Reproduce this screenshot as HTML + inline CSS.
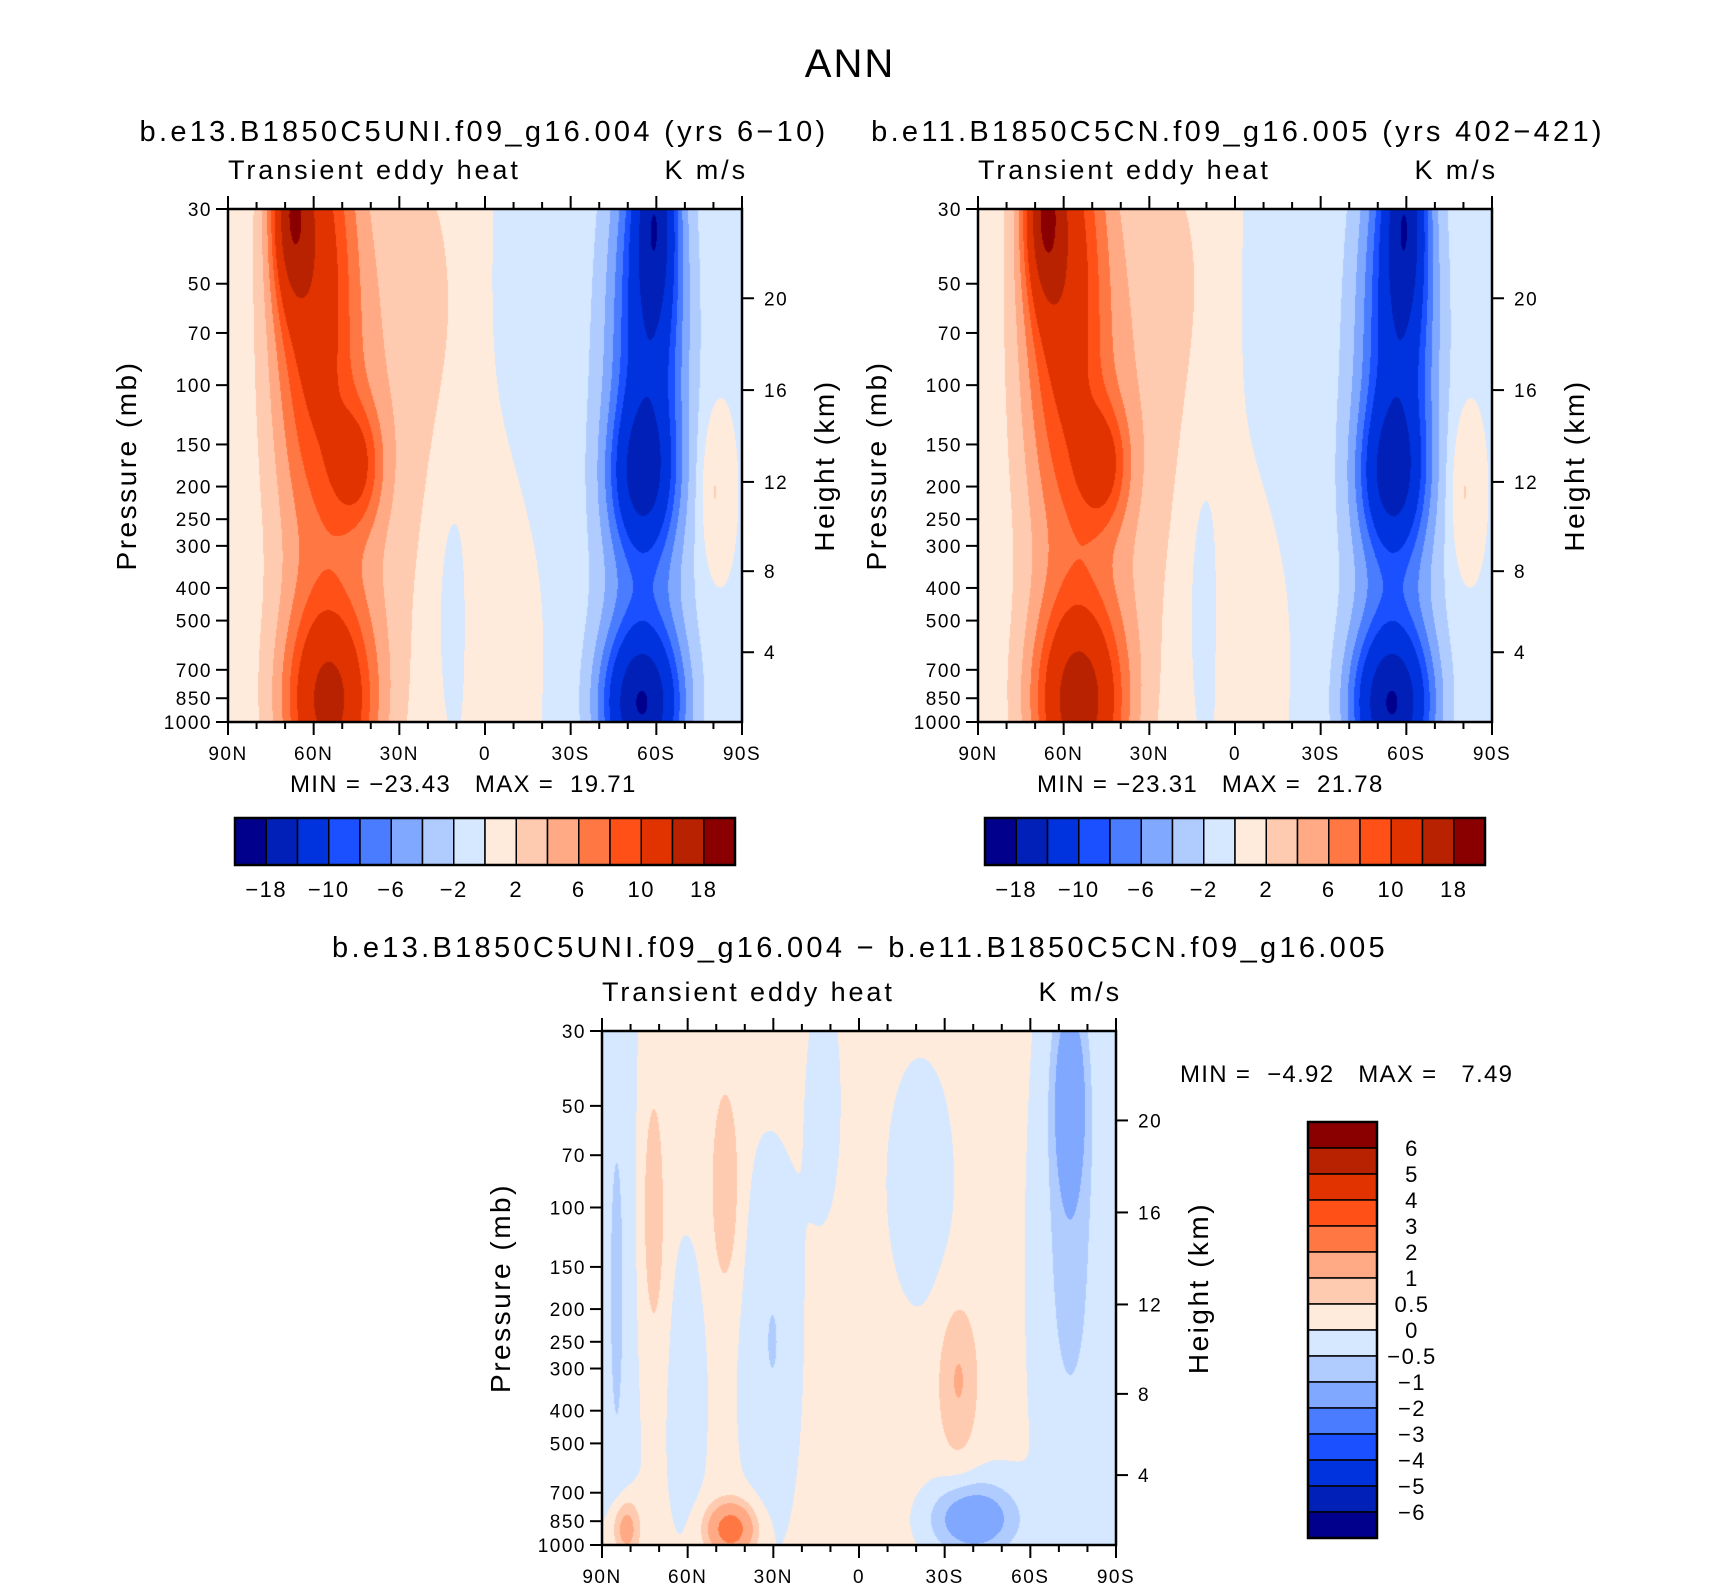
<!DOCTYPE html>
<html><head><meta charset="utf-8"><style>
html,body{margin:0;padding:0;background:#fff;}
#wrap{position:relative;width:1710px;height:1587px;overflow:hidden;font-family:"Liberation Sans",sans-serif;}
canvas{position:absolute;}
svg{position:absolute;left:0;top:0;}
text{white-space:pre;}
</style></head><body>
<div id="wrap">
<canvas id="c1"></canvas>
<canvas id="c2"></canvas>
<canvas id="c3"></canvas>
<svg id="s" width="1710" height="1587"></svg>
</div>
<script>
// ---- data ----
const colors = ["#00008c","#0020b8","#0033dd","#1a50ff","#4a7cff","#80a8ff","#b0ccff","#d6e8ff","#ffebdb","#ffcbb0","#ffaa84","#ff7844","#ff5018","#e03300","#b82200","#8a0000"];
const levelsAbs = [-18,-14,-10,-8,-6,-4,-2,0,2,4,6,8,10,14,18];
const levelsDiff = [-6,-5,-4,-3,-2,-1,-0.5,0,0.5,1,2,3,4,5,6];
const pTicks = [30,50,70,100,150,200,250,300,400,500,700,850,1000];
const latTicks = [90,60,30,0,-30,-60,-90];
const latLabels = ["90N","60N","30N","0","30S","60S","90S"];
const hTicks = [20,16,12,8,4];
const hFrac = [0.174,0.353,0.532,0.706,0.864];
// blobs: [lat, u (0 top..1 bottom), amplitude, lat width, u width]
const blobs1 = [
 [68,0.0,10,7,0.18],[60,0.1,10,15,0.5],[45,0.5,6,9,0.12],[55,0.97,12,16,0.2],
 [50,0.6,4,25,0.7],[20,0.2,2,20,0.5],[-5,0.75,1.6,10,0.3],[12,0.7,-1.4,8,0.3],
 [-60,0.0,-8,7,0.2],[-58,0.15,-8,12,0.4],[-55,0.52,-8,11,0.14],[-55,0.97,-14,14,0.15],
 [-55,0.55,-6,17,0.7],[-15,0.2,-1.8,12,0.35],[-80,0.55,2.8,5,0.15]];
const blobs2 = [
 [67,0.0,10,7,0.18],[60,0.1,10,15,0.5],[46,0.5,6,9,0.12],[55,0.97,13,16,0.2],
 [50,0.6,4,25,0.7],[20,0.2,2,20,0.5],[-5,0.78,1.5,9,0.25],[12,0.65,-1.4,8,0.35],
 [-60,0.0,-8,7,0.2],[-58,0.15,-8,12,0.4],[-55,0.52,-8,11,0.14],[-55,0.97,-14,14,0.15],
 [-55,0.55,-6,17,0.7],[-15,0.2,-1.8,12,0.35],[-80,0.55,2.8,5,0.15]];
const blobsDiff = [
 [0,0.4,0.3,45,1.2],[85,0.5,-0.6,5,0.6],[72,0.35,0.9,4,0.25],[47,0.3,0.9,5,0.2],
 [30,0.6,-0.7,10,0.35],[12,0.15,-0.45,8,0.3],[-35,0.68,0.9,7,0.15],
 [-74,0.12,-1.6,6,0.2],[-74,0.45,-0.7,10,0.4],[45,0.97,2.6,8,0.05],
 [-40,0.95,-1.8,15,0.07],[-20,0.3,-0.6,12,0.25],[60,0.7,-0.5,5,0.2],[82,0.97,1.5,5,0.06]];
// ---- geometry ----
const panels = [
 {cv:"c1",x:228,y:209,w:514,h:513,blobs:blobs1,levels:levelsAbs,name:"panel-1"},
 {cv:"c2",x:978,y:209,w:514,h:513,blobs:blobs2,levels:levelsAbs,name:"panel-2"},
 {cv:"c3",x:602,y:1031,w:514,h:514,blobs:blobsDiff,levels:levelsDiff,name:"panel-diff"}];
function hexRGB(h){return [parseInt(h.substr(1,2),16),parseInt(h.substr(3,2),16),parseInt(h.substr(5,2),16)];}
const rgb = colors.map(hexRGB);
function uOfP(p){return Math.log(p/30)/Math.log(1000/30);}
function field(bl,lat,u){let v=0;for(const b of bl){const a=(lat-b[0])/b[3],c=(u-b[1])/b[4];v+=b[2]*Math.exp(-a*a-c*c);}return v;}
function bin(levels,v){let i=0;while(i<levels.length&&v>=levels[i])i++;return i;}
for(const P of panels){
 const c=document.getElementById(P.cv);c.width=P.w;c.height=P.h;c.style.left=P.x+"px";c.style.top=P.y+"px";
 const ctx=c.getContext("2d");const img=ctx.createImageData(P.w,P.h);
 for(let j=0;j<P.h;j++){const u=j/(P.h-1);for(let i=0;i<P.w;i++){const lat=90-180*i/(P.w-1);
  const k=bin(P.levels,field(P.blobs,lat,u));const col=rgb[k];const o=(j*P.w+i)*4;
  img.data[o]=col[0];img.data[o+1]=col[1];img.data[o+2]=col[2];img.data[o+3]=255;}}
 ctx.putImageData(img,0,0);
}
// ---- svg overlay ----
const S=document.getElementById("s");const NS="http://www.w3.org/2000/svg";
function el(t,a,txt){const e=document.createElementNS(NS,t);for(const k in a)e.setAttribute(k,a[k]);if(txt!==undefined)e.textContent=txt;S.appendChild(e);return e;}
function text(x,y,s,size,anchor,name,rot,ls){const a={x:x,y:y,"font-size":size,"text-anchor":anchor||"middle",fill:"#000","font-family":"Liberation Sans, sans-serif","letter-spacing":(ls||0)+"px"};
 if(rot)a.transform="rotate(-90 "+x+" "+y+")";const e=el("text",a,s);return e;}
function line(x1,y1,x2,y2,w){const e=el("line",{x1:x1,y1:y1,x2:x2,y2:y2,stroke:"#000","stroke-width":w||2});return e;}
text(850,77,"ANN",40,"middle","main-title",false,2);
text(484,141,"b.e13.B1850C5UNI.f09_g16.004 (yrs 6\u221210)",29,"middle","left-subtitle",false,3.3);
text(1238,141,"b.e11.B1850C5CN.f09_g16.005 (yrs 402\u2212421)",29,"middle","right-subtitle",false,3.3);
text(860,957,"b.e13.B1850C5UNI.f09_g16.004 \u2212 b.e11.B1850C5CN.f09_g16.005",29,"middle","diff-subtitle",false,3.3);
for(const P of panels){
 const xs=lat=>P.x+(90-lat)/180*P.w, ys=p=>P.y+uOfP(p)*P.h;
 const r=el("rect",{x:P.x,y:P.y,width:P.w,height:P.h,fill:"none",stroke:"#000","stroke-width":2.5});
 
 text(P.x,P.y-30,"Transient eddy heat",27,"start",P.name+"-left-string",false,2.9);
 text(P.x+P.w+6,P.y-30,"K m/s",27,"end",P.name+"-units",false,2.9);
 for(let lat=90;lat>=-90;lat-=10){const major=lat%30===0;const L=major?13:7;
  line(xs(lat),P.y+P.h,xs(lat),P.y+P.h+L);line(xs(lat),P.y,xs(lat),P.y-L);}
 latTicks.forEach((t,i)=>text(xs(t),P.y+P.h+38,latLabels[i],19,"middle",P.name+"-x-label",false,1.5));
 pTicks.forEach(p=>{line(P.x-12,ys(p),P.x,ys(p));text(P.x-16,ys(p)+7,String(p),19,"end",P.name+"-y-label",false,1.5);});
 hTicks.forEach((h,i)=>{const y=P.y+hFrac[i]*P.h;line(P.x+P.w,y,P.x+P.w+12,y);text(P.x+P.w+22,y+7,String(h),19,"start",P.name+"-height-label",false,1.5);});
 text(P.x-92,P.y+P.h/2,"Pressure (mb)",28,"middle",P.name+"-y-title",true,2.5);
 text(P.x+P.w+92,P.y+P.h/2,"Height (km)",28,"middle",P.name+"-height-title",true,2.5);
}
// stats
text(290,792,"MIN = \u221223.43   MAX =  19.71",24,"start","panel-1-minmax",false,1.3);
text(1037,792,"MIN = \u221223.31   MAX =  21.78",24,"start","panel-2-minmax",false,1.3);
text(1180,1082,"MIN =  \u22124.92   MAX =   7.49",24,"start","panel-diff-minmax",false,1.3);
// horizontal colorbars
const absLabelsIdx=[0,2,4,6,8,10,12,14];
[[235,818,"colorbar-1"],[985,818,"colorbar-2"]].forEach(([x0,y0,nm])=>{
 const bw=500/16,bh=47;
 colors.forEach((c,i)=>{const r=el("rect",{x:x0+i*bw,y:y0,width:bw,height:bh,fill:c,stroke:"#000","stroke-width":1.5});
  });
 const f=el("rect",{x:x0,y:y0,width:500,height:bh,fill:"none",stroke:"#000","stroke-width":2.5});
 
 absLabelsIdx.forEach(k=>{const v=levelsAbs[k];text(x0+(k+1)*bw,y0+bh+32,(v<0?"\u2212":"")+Math.abs(v),22,"middle",nm+"-label",false,1.5);});
});
// vertical colorbar
{const x0=1308,y0=1122,bw=69,bh=26;
 colors.slice().reverse().forEach((c,i)=>{const r=el("rect",{x:x0,y:y0+i*bh,width:bw,height:bh,fill:c,stroke:"#000","stroke-width":1.5});
  });
 const f=el("rect",{x:x0,y:y0,width:bw,height:bh*16,fill:"none",stroke:"#000","stroke-width":2.5});
 
 levelsDiff.slice().reverse().forEach((v,i)=>{text(1412,y0+(i+1)*bh+8,(v<0?"\u2212":"")+Math.abs(v),22,"middle","colorbar-diff-label",false,1.5);});
}
</script>
</body></html>
